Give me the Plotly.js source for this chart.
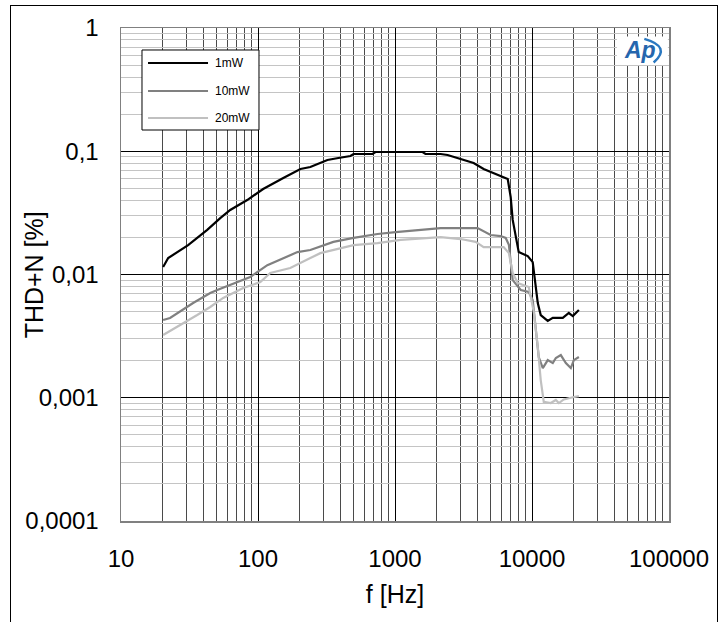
<!DOCTYPE html>
<html>
<head>
<meta charset="utf-8">
<script src="https://cdn.plot.ly/plotly-3.0.1.min.js"></script>
<style>
  html, body { margin: 0; padding: 0; background: #fff; }
  #wrap { position: relative; width: 719px; height: 622px; }
  #chart { position: absolute; left: 0; top: 0; width: 719px; height: 622px; }
  #frame { position: absolute; left: 10px; top: 5px; width: 708px; height: 620px; border: 1px solid #000; pointer-events: none; box-sizing: border-box; }
</style>
</head>
<body>
<div id="wrap">
  <div id="chart"></div>
  <div id="frame"></div>
</div>
<script>
// ---- data ----
const seriesNames = ['1mW', '10mW', '20mW'];

const freq1mW = [20.3, 22.1, 30.9, 42.6, 53, 62.7, 83.4, 109, 153, 204, 241, 321, 386, 473, 498, 685, 720, 1590, 1670, 2153, 2420, 3013, 3750, 4436, 4990, 6650, 6990, 7230, 8000, 9310, 10120, 10650, 11020, 11580, 13030, 14180, 16780, 18570, 19860, 20900, 21990];
const thd1mW = [0.0115, 0.0136, 0.0173, 0.023, 0.0287, 0.0334, 0.0402, 0.0494, 0.0607, 0.0718, 0.0745, 0.0849, 0.0882, 0.0915, 0.095, 0.095, 0.0986, 0.0986, 0.095, 0.095, 0.0933, 0.0865, 0.0803, 0.0718, 0.068, 0.0596, 0.0425, 0.0277, 0.0152, 0.0141, 0.0126, 0.0079, 0.00587, 0.00469, 0.0042, 0.00445, 0.00445, 0.00487, 0.0046, 0.00487, 0.00515];

const freq10mW = [20.3, 22.8, 33.6, 44.8, 50.4, 70.5, 87.7, 117, 153, 194, 241, 355, 498, 745, 1010, 1460, 1910, 2153, 4010, 4990, 5900, 6430, 6780, 7230, 8280, 9470, 10120, 10650, 11200, 11990, 13030, 14180, 14930, 16230, 17660, 19200, 20200, 21990];
const thd10mW = [0.00427, 0.00444, 0.00587, 0.00708, 0.00748, 0.00869, 0.00954, 0.0119, 0.0136, 0.0152, 0.0158, 0.0184, 0.0198, 0.0213, 0.0221, 0.023, 0.0238, 0.0238, 0.0238, 0.0209, 0.0205, 0.0198, 0.0174, 0.009, 0.00748, 0.00721, 0.00621, 0.00375, 0.00214, 0.00174, 0.00202, 0.00191, 0.0021, 0.00222, 0.00191, 0.00174, 0.00202, 0.00214];

const freq20mW = [20.3, 25.7, 36, 44.8, 55.7, 78, 104, 123, 172, 241, 285, 498, 745, 1100, 1730, 2153, 3013, 3880, 4436, 6210, 6780, 7230, 7870, 9470, 10300, 11020, 11580, 12190, 13710, 14930, 15700, 17070, 19860, 21990];
const thd20mW = [0.00323, 0.00375, 0.00469, 0.00545, 0.00645, 0.00776, 0.00869, 0.0103, 0.0113, 0.0136, 0.0149, 0.0173, 0.018, 0.0191, 0.0198, 0.0201, 0.0194, 0.0184, 0.0167, 0.0167, 0.0149, 0.0103, 0.00853, 0.00792, 0.00497, 0.00258, 0.00139, 0.000925, 0.000906, 0.00096, 0.000906, 0.000969, 0.00101, 0.00103];

const xTickVals = [10, 100, 1000, 10000, 100000];
const xTickText = ['10', '100', '1000', '10000', '100000'];
const yTickVals = [0.0001, 0.001, 0.01, 0.1, 1];
const yTickText = ['0,0001', '0,001', '0,01', '0,1', '1'];
const xTitle = 'f [Hz]';
const yTitle = 'THD+N [%]';

const colors = ['#000000', '#808080', '#c0c0c0'];
const freqs = [freq1mW, freq10mW, freq20mW];
const vals = [thd1mW, thd10mW, thd20mW];

const traces = seriesNames.map((n, i) => ({
  x: freqs[i], y: vals[i], name: n, type: 'scatter', mode: 'lines',
  showlegend: false,
  line: { color: colors[i], width: 2.2 }
}));

const font = 'Liberation Sans, Arial, sans-serif';

// boxed key, placed in paper space like the reference
const legX0 = 0.0383, legX1 = 0.2518, legY0 = 0.7931, legY1 = 0.9554;
const legRowsY = [0.929, 0.8722, 0.8174];
const legLineX = [0.0493, 0.1588];
const legTextX = 0.1679;

const shapes = [{
  type: 'rect', xref: 'paper', yref: 'paper', x0: legX0, x1: legX1, y0: legY0, y1: legY1,
  line: { color: '#000000', width: 1 }, fillcolor: '#ffffff', layer: 'above'
}];
const annotations = [];
seriesNames.forEach((n, i) => {
  shapes.push({
    type: 'line', xref: 'paper', yref: 'paper',
    x0: legLineX[0], x1: legLineX[1], y0: legRowsY[i], y1: legRowsY[i],
    line: { color: colors[i], width: 2.2 }, layer: 'above'
  });
  annotations.push({
    xref: 'paper', yref: 'paper', x: legTextX, y: legRowsY[i], xanchor: 'left', yanchor: 'middle',
    text: n, showarrow: false, font: { family: font, size: 12, color: '#000' }
  });
});

// Ap logo: white patch, swoosh, letters
shapes.push({
  type: 'rect', xref: 'paper', yref: 'paper', x0: 0.905, x1: 0.998, y0: 0.925, y1: 0.983,
  line: { width: 0 }, fillcolor: '#ffffff', layer: 'above'
});
shapes.push({
  type: 'path', xref: 'paper', yref: 'paper',
  path: 'M 0.955 0.978 Q 1.005 0.962 0.972 0.930',
  line: { color: '#2a78c0', width: 2.5 }, layer: 'above'
});
annotations.push({
  xref: 'paper', yref: 'paper', x: 0.947, y: 0.955, xanchor: 'center', yanchor: 'middle',
  text: '<b><i>Ap</i></b>', showarrow: false,
  font: { family: font, size: 23, color: '#2566ad' }
});

// y-axis title, placed where the reference has it (partly level with the tick labels)
annotations.push({
  xref: 'paper', yref: 'paper', x: -0.159, y: 0.5, xanchor: 'center', yanchor: 'middle',
  text: yTitle, textangle: -90, showarrow: false,
  font: { family: font, size: 25, color: '#000' }
});

const layout = {
  width: 719, height: 622,
  margin: { l: 121, r: 50, t: 28, b: 101 },
  paper_bgcolor: '#ffffff', plot_bgcolor: '#ffffff',
  font: { family: font, color: '#000' },
  showlegend: false,
  xaxis: {
    type: 'log', range: [1, 5],
    tickvals: xTickVals, ticktext: xTickText,
    tickfont: { size: 24, family: font },
    ticks: '', ticklabelstandoff: 16,
    showgrid: true, gridcolor: '#000000', gridwidth: 1,
    minor: { dtick: 'D1', showgrid: true, gridcolor: '#4a4a4a', gridwidth: 1, ticks: '' },
    showline: true, linecolor: '#808080', linewidth: 1.5, mirror: true,
    zeroline: false,
    title: { text: xTitle, font: { size: 25, family: font }, standoff: 14 }
  },
  yaxis: {
    type: 'log', range: [-4, 0],
    tickvals: yTickVals, ticktext: yTickText,
    tickfont: { size: 24, family: font },
    ticks: '', ticklabelstandoff: 16,
    showgrid: true, gridcolor: '#000000', gridwidth: 1,
    minor: { dtick: 'D1', showgrid: true, gridcolor: '#c4c4c4', gridwidth: 1, ticks: '' },
    showline: true, linecolor: '#808080', linewidth: 1.5, mirror: true,
    zeroline: false
  },
  annotations: annotations,
  shapes: shapes
};

Plotly.newPlot('chart', traces, layout, { displayModeBar: false, staticPlot: true });
</script>
</body>
</html>
